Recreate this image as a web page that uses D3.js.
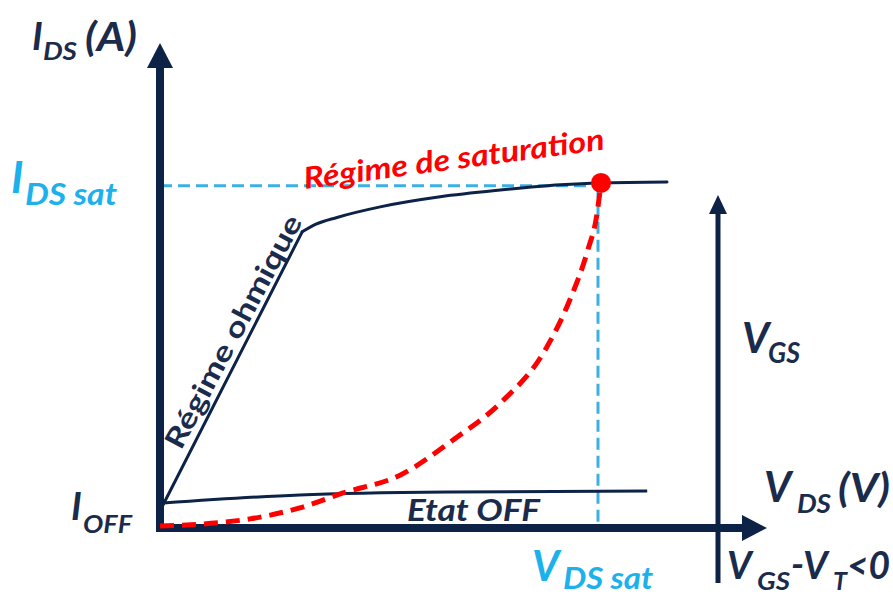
<!DOCTYPE html>
<html><head><meta charset="utf-8">
<script src="https://cdn.jsdelivr.net/npm/d3@7"></script>
<style>body{margin:0;background:#fff}svg{display:block}text{font-family:Lato,"Open Sans",sans-serif;font-weight:700}</style>
</head><body><svg id="c" width="893" height="596"></svg>
<script>
// ---- data (arbitrary units: VDS on x, IDS on y) ----
// ohmic regime: straight part (first two points) then saturating knee
const ohmicX = [0.05, 2.37, 2.6, 2.95, 3.67, 4.67, 5.67, 6.67, 7.33, 8.45];
const ohmicY = [0.48, 6.17, 6.33, 6.47, 6.69, 6.90, 7.04, 7.15, 7.19, 7.21];
const offX = [0.05, 2.33, 4.83, 8.12];
const offY = [0.52, 0.69, 0.75, 0.77];
const satX = [0, 1.5, 2.33, 3.05, 4.0, 4.88, 5.67, 6.42, 6.83, 7.13, 7.28, 7.35];
const satY = [0.04, 0.19, 0.42, 0.73, 1.1, 1.83, 2.6, 3.71, 4.75, 5.79, 6.52, 7.19];
const idsSat = 7.13;
const vdsSat = 7.3;
const satPoint = [7.35, 7.19];

const navy = "#0c2246", textNavy = "#1b2b4c", red = "#ff0000", cyan = "#1db1ec", dashCyan = "#3cb0e2";
const svg = d3.select("#c");
const x = d3.scaleLinear().domain([0, 10]).range([160, 760]);
const y = d3.scaleLinear().domain([0, 10]).range([528, 48]);
const zip = (a, b) => a.map((v, i) => [v, b[i]]);
const line = d3.line().x(d => x(d[0])).y(d => y(d[1]));
const smooth = d3.line().x(d => x(d[0])).y(d => y(d[1])).curve(d3.curveMonotoneX);

// guide dashed lines
svg.append("path").attr("d", line([[0, idsSat], [vdsSat, idsSat]]))
  .attr("stroke", dashCyan).attr("stroke-width", 3).attr("stroke-dasharray", "12,6").attr("fill", "none");
svg.append("path").attr("d", line([[vdsSat, idsSat], [vdsSat, 0]]))
  .attr("stroke", dashCyan).attr("stroke-width", 3).attr("stroke-dasharray", "12,6").attr("fill", "none");

// curves
const ohm = zip(ohmicX, ohmicY);
svg.append("path").attr("d", line(ohm.slice(0, 2)))
  .attr("stroke", navy).attr("stroke-width", 3).attr("fill", "none").attr("stroke-linecap", "round");
svg.append("path").attr("d", smooth(ohm.slice(1)))
  .attr("stroke", navy).attr("stroke-width", 3).attr("fill", "none").attr("stroke-linecap", "round");
svg.append("path").attr("d", smooth(zip(offX, offY)))
  .attr("stroke", navy).attr("stroke-width", 3).attr("fill", "none");

// axes
svg.append("line").attr("x1", x(0)).attr("y1", y(0) + 4).attr("x2", x(0)).attr("y2", 66)
  .attr("stroke", navy).attr("stroke-width", 8);
svg.append("path").attr("d", `M${x(0)},43 L${x(0) - 13},68 L${x(0) + 13},68 Z`).attr("fill", navy);
svg.append("line").attr("x1", x(0) - 4).attr("y1", y(0)).attr("x2", 744).attr("y2", y(0))
  .attr("stroke", navy).attr("stroke-width", 8);
svg.append("path").attr("d", `M767,${y(0)} L742,${y(0) - 13} L742,${y(0) + 13} Z`).attr("fill", navy);
// VGS arrow
svg.append("line").attr("x1", 718).attr("y1", 583).attr("x2", 718).attr("y2", 210)
  .attr("stroke", navy).attr("stroke-width", 5);
svg.append("path").attr("d", `M718,195 L709,214 L727,214 Z`).attr("fill", navy);

// saturation curve on top of the axes
svg.append("path").attr("d", smooth(zip(satX, satY)))
  .attr("stroke", red).attr("stroke-width", 5).attr("stroke-dasharray", "14,8").attr("fill", "none");
// saturation point
svg.append("circle").attr("cx", x(satPoint[0])).attr("cy", y(satPoint[1])).attr("r", 10).attr("fill", red);

// labels
function t(str, px, py, size, color, italic = true, extra = {}) {
  const el = svg.append("text").attr("x", px).attr("y", py).attr("font-size", size)
    .attr("fill", color).attr("font-style", italic ? "italic" : "normal").text(str);
  for (const k in extra) el.attr(k, extra[k]);
  return el;
}
const fit = w => ({textLength: w, lengthAdjust: "spacingAndGlyphs"});
t("I", 32, 50, 38, textNavy); t("DS", 43, 60, 25, textNavy, true, fit(34)); t("(A)", 85, 51, 40, textNavy, true, fit(52));
t("I", 11, 193, 44, cyan); t("DS sat", 25, 205, 31, cyan, true, fit(92));
t("I", 71, 520, 38, textNavy); t("OFF", 83, 533, 25, textNavy, true, fit(49));
t("Etat OFF", 407, 521, 30, textNavy, true, fit(133));
t("V", 532, 581, 42, cyan); t("DS sat", 563, 589, 30, cyan, true, fit(90));
t("V", 742, 353, 42, textNavy); t("GS", 768, 363, 28, textNavy, true, fit(32));
t("V", 764, 502, 42, textNavy); t("DS", 797, 513, 26, textNavy, true, fit(34)); t("(V)", 838, 502, 40, textNavy, true, fit(52));
t("V", 727, 579, 38, textNavy); t("GS", 757, 590, 25, textNavy, true, fit(33)); t("-", 791, 578, 38, textNavy);
t("V", 803, 579, 38, textNavy); t("T", 833, 590, 25, textNavy); t("<0", 847, 579, 38, textNavy, true, fit(43));
t("Régime de saturation", 305, 189, 30, red, true, Object.assign({transform: "rotate(-7.5 305 189)"}, fit(303)));
t("Régime ohmique", 181, 451, 28, textNavy, false, Object.assign({transform: "rotate(-62 181 451)"}, fit(260)));
</script></body></html>
